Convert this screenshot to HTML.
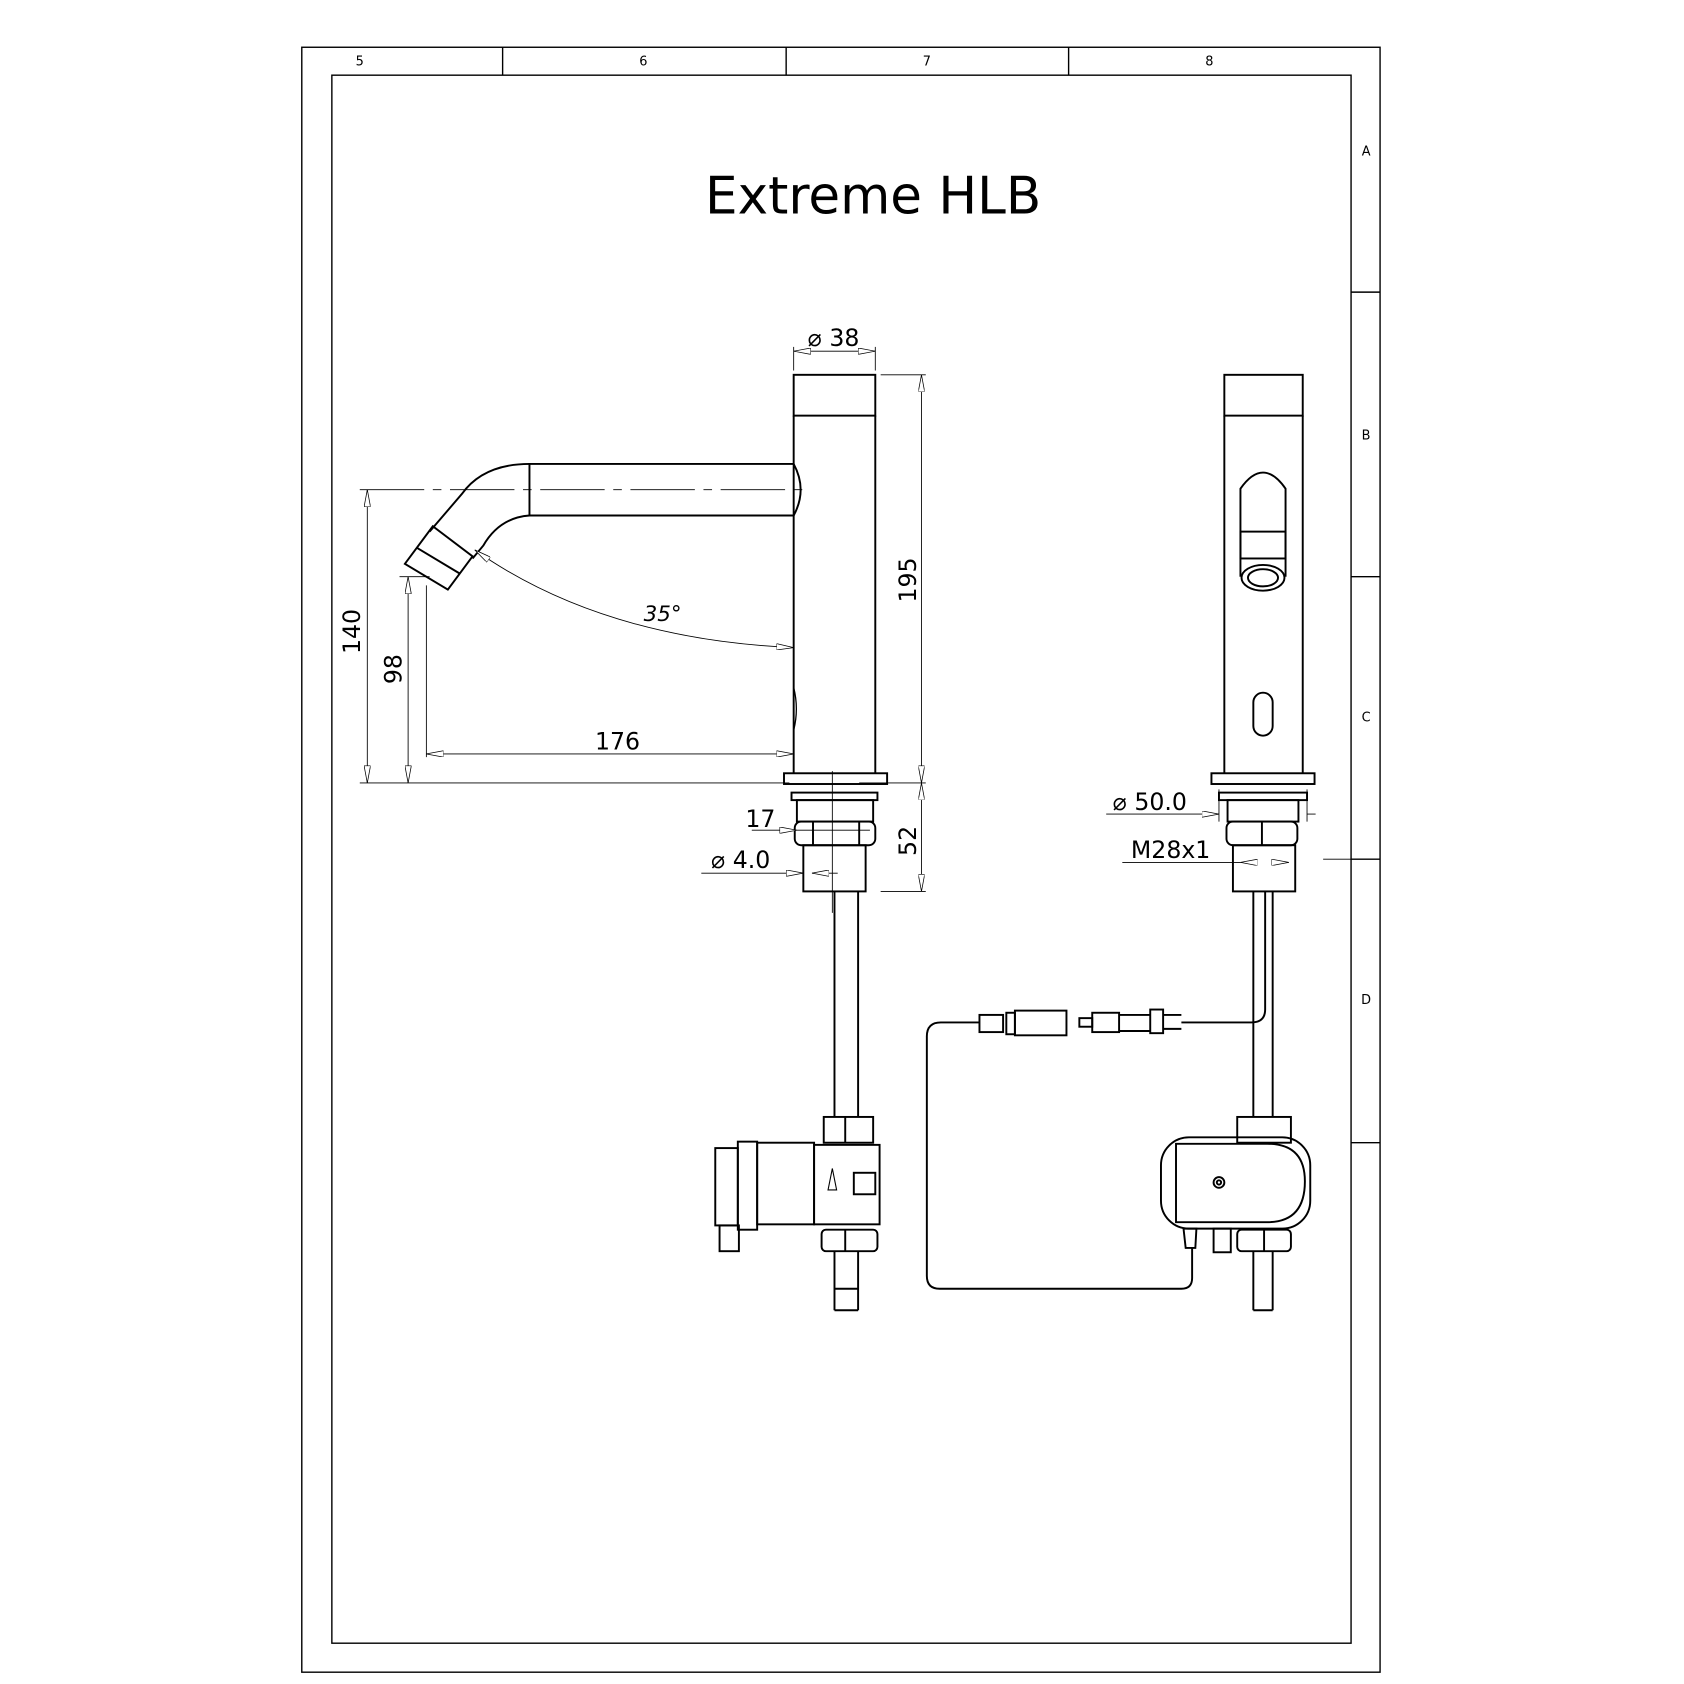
<!DOCTYPE html>
<html><head><meta charset="utf-8"><style>
html,body{margin:0;padding:0;background:#fff}
svg{display:block}
text{font-family:"DejaVu Sans","Liberation Sans",sans-serif;fill:#000}
</style></head><body>
<svg width="1684" height="1684" viewBox="0 0 1568 1568" xmlns="http://www.w3.org/2000/svg">
<defs>
<marker id="a" viewBox="0 0 16 6" refX="16" refY="3" markerWidth="16" markerHeight="6" orient="auto-start-reverse" markerUnits="userSpaceOnUse">
<path d="M0 0 L16 3 L0 6 Z" fill="#fff" stroke="#000" stroke-width="0.7"/></marker>
</defs>
<rect width="1568" height="1568" fill="#fff"/>
<g fill="none" stroke="#000" stroke-width="1.3">
<rect x="281" y="44" width="1004" height="1513"/>
<rect x="309" y="70" width="949" height="1460"/>
<line x1="468" y1="44" x2="468" y2="70"/><line x1="732" y1="44" x2="732" y2="70"/><line x1="995" y1="44" x2="995" y2="70"/>
<line x1="1258" y1="272" x2="1285" y2="272"/><line x1="1258" y1="537" x2="1285" y2="537"/><line x1="1258" y1="800" x2="1285" y2="800"/><line x1="1258" y1="1064" x2="1285" y2="1064"/>
</g>
<g font-size="12" text-anchor="middle">
<text x="335" y="61">5</text><text x="599" y="61">6</text><text x="863" y="61">7</text><text x="1126" y="61">8</text>
<text x="1272" y="145">A</text><text x="1272" y="409">B</text><text x="1272" y="672">C</text><text x="1272" y="935">D</text>
</g>
<text x="813" y="199" font-size="48" text-anchor="middle">Extreme HLB</text>

<!-- Left view -->
<g fill="none" stroke="#000" stroke-width="1.8">
<rect x="739" y="349" width="76" height="38"/>
<line x1="739" y1="387" x2="739" y2="720"/><line x1="815" y1="387" x2="815" y2="720"/>
<path d="M739 432 L493 432 Q450 432 430 460 L400 495"/>
<path d="M739 480 L493 480 Q465 482 450 508 L440 520"/>
<path d="M739 432 Q752 456 739 480"/>
<line x1="493" y1="432" x2="493" y2="480"/>
<path d="M403 490 L377 525 L417 549 L440 518 Z"/>
<line x1="388" y1="510" x2="428" y2="534"/>
<path d="M739 640 Q744 660 739 680" stroke-width="1.2"/>
<rect x="730" y="720" width="96" height="10"/>
<rect x="737" y="738" width="80" height="7"/>
<rect x="742" y="745" width="71" height="20"/>
<rect x="740" y="765" width="75" height="22" rx="6"/>
<line x1="757" y1="765" x2="757" y2="787"/><line x1="800" y1="765" x2="800" y2="787"/>
<rect x="748" y="787" width="58" height="43"/>
<line x1="777" y1="830" x2="777" y2="1040"/><line x1="799" y1="830" x2="799" y2="1040"/>
<rect x="767" y="1040" width="46" height="24"/><line x1="787" y1="1040" x2="787" y2="1064"/>
<rect x="758" y="1066" width="61" height="74"/>
<rect x="705" y="1064" width="53" height="76"/>
<rect x="687" y="1063" width="18" height="82"/>
<rect x="666" y="1069" width="21" height="72"/>
<rect x="670" y="1141" width="18" height="24"/>
<rect x="795" y="1092" width="20" height="20"/>
<rect x="765" y="1145" width="52" height="20" rx="4"/><line x1="787" y1="1145" x2="787" y2="1165"/>
<line x1="777" y1="1165" x2="777" y2="1220"/><line x1="799" y1="1165" x2="799" y2="1220"/><line x1="777" y1="1220" x2="799" y2="1220"/>
<line x1="777" y1="1200" x2="799" y2="1200"/>
</g>
<path d="M775 1088 L779 1108 L771 1108 Z" fill="none" stroke="#000"/>
<!-- dims left -->
<g fill="none" stroke="#000" stroke-width="0.8">
<line x1="335" y1="456" x2="750" y2="456" stroke-dasharray="60 8 8 8"/>
<line x1="335" y1="729" x2="735" y2="729"/>
<line x1="342" y1="456" x2="342" y2="729" marker-start="url(#a)" marker-end="url(#a)"/>
<line x1="380" y1="537" x2="380" y2="729" marker-start="url(#a)" marker-end="url(#a)"/>
<line x1="372" y1="537" x2="400" y2="537"/>
<line x1="397" y1="545" x2="397" y2="705"/>
<line x1="397" y1="702" x2="739" y2="702" marker-start="url(#a)" marker-end="url(#a)"/>
<path d="M442 512 Q560 595 739 603" marker-start="url(#a)" marker-end="url(#a)"/>
<line x1="739" y1="323" x2="739" y2="345"/><line x1="815" y1="323" x2="815" y2="345"/>
<line x1="739" y1="327" x2="815" y2="327" marker-start="url(#a)" marker-end="url(#a)"/>
<line x1="820" y1="349" x2="862" y2="349"/><line x1="820" y1="830" x2="862" y2="830"/>
<line x1="858" y1="349" x2="858" y2="729" marker-start="url(#a)" marker-end="url(#a)"/>
<line x1="858" y1="729" x2="858" y2="830" marker-start="url(#a)" marker-end="url(#a)"/>
<line x1="800" y1="729" x2="862" y2="729"/>
<line x1="700" y1="773" x2="742" y2="773" marker-end="url(#a)"/>
<line x1="742" y1="773" x2="810" y2="773"/>
<line x1="653" y1="813" x2="748" y2="813" marker-end="url(#a)"/>
<line x1="780" y1="813" x2="756" y2="813" marker-end="url(#a)"/>
<line x1="775" y1="718" x2="775" y2="850"/>
</g>
<text x="335" y="588" font-size="22" text-anchor="middle" transform="rotate(-90 335 588)">140</text>
<text x="374" y="623" font-size="22" text-anchor="middle" transform="rotate(-90 374 623)">98</text>
<text x="575" y="698" font-size="22" text-anchor="middle">176</text>
<text x="617" y="578" font-size="20" text-anchor="middle" font-style="italic">35°</text>
<text x="752" y="322" font-size="22">⌀ 38</text>
<text x="853" y="540" font-size="22" text-anchor="middle" transform="rotate(-90 853 540)">195</text>
<text x="853" y="783" font-size="22" text-anchor="middle" transform="rotate(-90 853 783)">52</text>
<text x="708" y="770" font-size="22" text-anchor="middle">17</text>
<text x="662" y="808" font-size="22">⌀ 4.0</text>

<!-- Right view -->
<g fill="none" stroke="#000" stroke-width="1.8">
<rect x="1140" y="349" width="73" height="38"/>
<line x1="1140" y1="387" x2="1140" y2="720"/><line x1="1213" y1="387" x2="1213" y2="720"/>
<path d="M1155 537 L1155 455 Q1176 425 1197 455 L1197 537"/>
<rect x="1155" y="495" width="42" height="25"/>
<ellipse cx="1176" cy="538" rx="20" ry="12"/><ellipse cx="1176" cy="538" rx="14" ry="8"/>
<rect x="1167" y="645" width="18" height="40" rx="9"/>
<rect x="1128" y="720" width="96" height="10"/>
<rect x="1135" y="738" width="82" height="7"/>
<rect x="1143" y="745" width="66" height="20"/>
<rect x="1142" y="765" width="66" height="22" rx="6"/><line x1="1175" y1="765" x2="1175" y2="787"/>
<rect x="1148" y="787" width="58" height="43"/>
<line x1="1167" y1="830" x2="1167" y2="1040"/><line x1="1185" y1="830" x2="1185" y2="1040"/>
<path d="M1178 830 L1178 940 Q1178 952 1165 952 L1100 952"/>
<rect x="1152" y="1040" width="50" height="24"/>
<rect x="1081" y="1059" width="139" height="85" rx="26"/>
<path d="M1095 1065 L1180 1065 Q1215 1065 1215 1100 Q1215 1138 1180 1138 L1095 1138 Z"/>
<circle cx="1135" cy="1101" r="5"/><circle cx="1135" cy="1101" r="2"/>
<rect x="1152" y="1145" width="50" height="20" rx="4"/><line x1="1177" y1="1145" x2="1177" y2="1165"/>
<rect x="1130" y="1144" width="16" height="22"/>
<path d="M1102 1144 L1114 1144 L1113 1162 L1104 1162 Z"/>
<line x1="1167" y1="1165" x2="1167" y2="1220"/><line x1="1185" y1="1165" x2="1185" y2="1220"/><line x1="1167" y1="1220" x2="1185" y2="1220"/>
<path d="M1110 1162 L1110 1190 Q1110 1200 1100 1200 L875 1200 Q863 1200 863 1188 L863 965 Q863 952 876 952 L912 952"/>
<rect x="912" y="945" width="22" height="16"/>
<rect x="937" y="943" width="8" height="20"/>
<rect x="945" y="941" width="48" height="23"/>
<rect x="1005" y="948" width="12" height="8"/>
<rect x="1017" y="943" width="25" height="18"/>
<rect x="1071" y="940" width="12" height="22"/>
<line x1="1042" y1="945" x2="1071" y2="945"/><line x1="1042" y1="960" x2="1071" y2="960"/>
<line x1="1083" y1="945" x2="1100" y2="945"/><line x1="1083" y1="958" x2="1100" y2="958"/>
</g>
<g fill="none" stroke="#000" stroke-width="0.8">
<line x1="1135" y1="735" x2="1135" y2="765"/><line x1="1217" y1="735" x2="1217" y2="765"/>
<line x1="1030" y1="758" x2="1135" y2="758" marker-end="url(#a)"/>
<line x1="1225" y1="758" x2="1217" y2="758"/>
<line x1="1045" y1="803" x2="1155" y2="803"/>
<line x1="1155" y1="803" x2="1170" y2="803" marker-start="url(#a)"/>
<line x1="1185" y1="803" x2="1200" y2="803" marker-end="url(#a)"/>
<line x1="1232" y1="800" x2="1258" y2="800"/>
</g>
<text x="1036" y="754" font-size="22">⌀ 50.0</text>
<text x="1090" y="799" font-size="22" text-anchor="middle">M28x1</text>
</svg>
</body></html>
